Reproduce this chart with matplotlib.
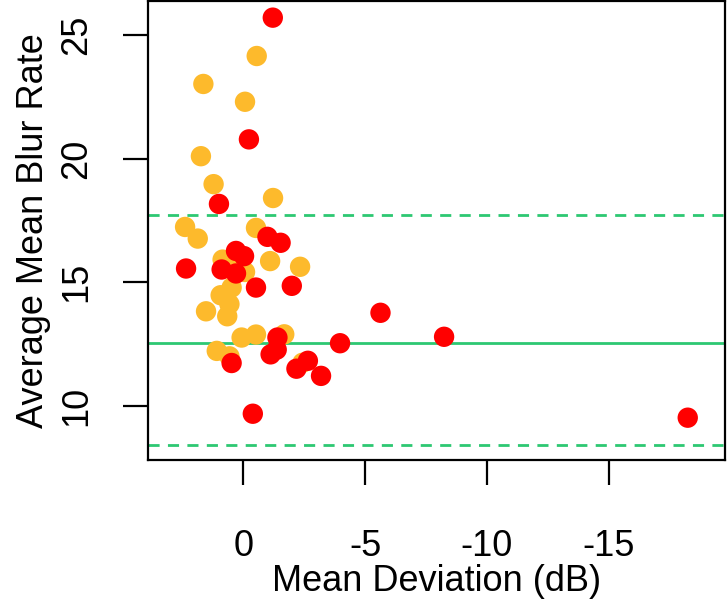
import numpy as np
import matplotlib
matplotlib.use("Agg")
import matplotlib.pyplot as plt

plt.rcParams["font.family"] = ["Liberation Sans", "DejaVu Sans"]

# red group (x = mean deviation, y = average mean blur rate)
red_md = [-1.21, -0.23, 1.00, -0.99, -1.53, 0.30, -0.03, 2.35, 0.89, 0.30, -0.52, -1.99,
          -1.40, -3.97, 0.48, -1.12, -1.37, -2.65, -2.18, -3.19, -0.39, -5.63, -8.24, -18.24]
red_mbr = [25.70, 20.78, 18.17, 16.84, 16.60, 16.27, 16.06, 15.56, 15.52, 15.36, 14.79, 14.86,
           12.77, 12.54, 11.74, 12.09, 12.28, 11.83, 11.51, 11.22, 9.69, 13.77, 12.80, 9.53]

# orange group
org_md = [-0.55, 1.64, -0.07, 1.74, 1.22, -1.22, 2.39, 1.87, -0.52, 0.85, 0.41, -1.10, -2.33,
          -0.07, 0.48, 0.93, 0.57, 1.53, 0.66, 0.07, -0.52, -1.68, 1.09, 0.57, -2.43]
org_mbr = [24.15, 23.02, 22.30, 20.10, 18.97, 18.41, 17.24, 16.77, 17.20, 15.92, 15.86, 15.86, 15.63,
           15.42, 14.79, 14.48, 14.12, 13.83, 13.63, 12.77, 12.89, 12.90, 12.23, 12.01, 11.75]

mean_line = 12.53
upper_line = 17.72
lower_line = 8.44

x_ticks = [0, -5, -10, -15]
y_ticks = [10, 15, 20, 25]

fig = plt.figure(figsize=(7.28, 6.04), dpi=100)
ax = fig.add_axes([0.2037, 0.2376, 0.7922, 0.7602])

green = "#2DC872"
ax.axhline(mean_line, color=green, lw=2.0, zorder=1)
ax.axhline(upper_line, color=green, lw=2.0, ls=(0, (4, 3)), zorder=1)
ax.axhline(lower_line, color=green, lw=2.0, ls=(0, (4, 3)), zorder=1)

ax.scatter(org_md, org_mbr, s=215, color="#FDBA2C", edgecolors="none", zorder=2)
ax.scatter(red_md, red_mbr, s=215, color="#FF0000", edgecolors="none", zorder=3)

ax.set_xlim(3.90, -19.77)
ax.set_ylim(7.80, 26.36)
ax.set_xticks(x_ticks)
ax.set_xticklabels([str(v) for v in x_ticks])
ax.set_yticks(y_ticks)
ax.set_yticklabels([str(v) for v in y_ticks], rotation=90, va="center")

for s in ax.spines.values():
    s.set_linewidth(1.6)
ax.tick_params(direction="out", length=18, width=1.6, labelsize=26)
ax.tick_params(axis="x", pad=31)
ax.tick_params(axis="y", pad=21)

ax.set_xlabel("Mean Deviation (dB)", fontsize=26, labelpad=0)
ax.set_ylabel("Average Mean Blur Rate", fontsize=26, labelpad=6)

plt.savefig("out.png", dpi=100)
